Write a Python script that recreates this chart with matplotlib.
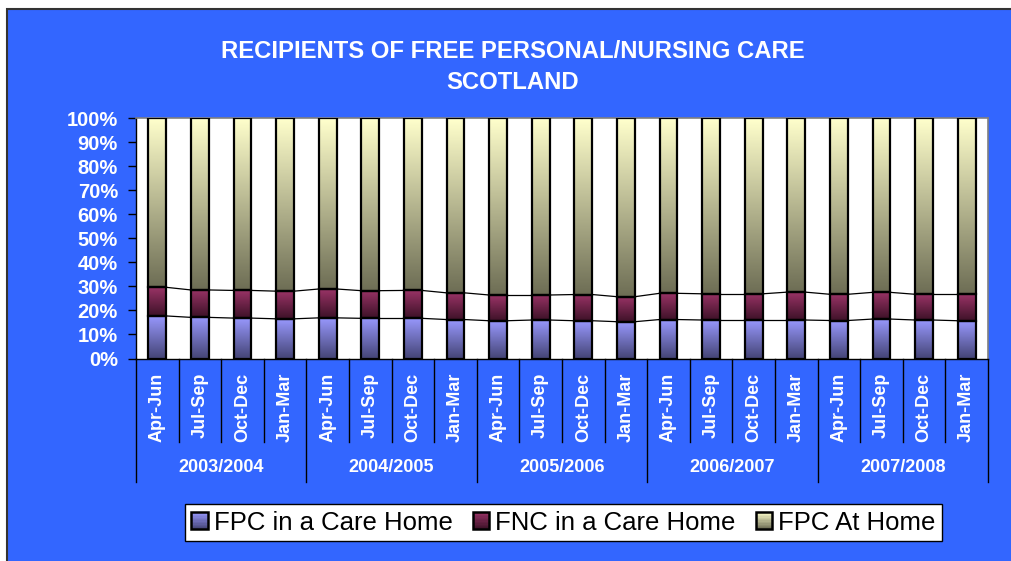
import numpy as np
import matplotlib
matplotlib.use("Agg")
import matplotlib.pyplot as plt
from matplotlib.patches import Rectangle
from matplotlib.legend_handler import HandlerBase

# ---------------- data ----------------
quarters = ["Apr-Jun", "Jul-Sep", "Oct-Dec", "Jan-Mar"]
years = ["2003/2004", "2004/2005", "2005/2006", "2006/2007", "2007/2008"]
series_names = ["FPC in a Care Home", "FNC in a Care Home", "FPC At Home"]

fpc_care = [17.7, 17.1, 16.8, 16.5, 16.9, 16.7, 16.7, 16.2,
            15.7, 16.0, 15.7, 15.3, 16.2, 16.0, 16.0, 16.0,
            15.8, 16.4, 16.0, 15.7]
fnc_care = [11.9, 11.4, 11.5, 11.5, 12.0, 11.5, 11.6, 11.1,
            10.7, 10.4, 10.9, 10.4, 10.9, 10.9, 10.9, 11.6,
            10.9, 11.1, 10.7, 11.0]
fpc_home = [70.4, 71.5, 71.7, 72.0, 71.1, 71.8, 71.7, 72.7,
            73.6, 73.6, 73.4, 74.3, 72.9, 73.1, 73.1, 72.4,
            73.3, 72.5, 73.3, 73.3]

yticks = [0, 10, 20, 30, 40, 50, 60, 70, 80, 90, 100]
ytick_labels = [f"{v}%" for v in yticks]

# gradient colours (top, bottom)
grad_colors = [
    ((153, 153, 255), (70, 70, 120)),
    ((153, 51, 102), (62, 18, 40)),
    ((255, 255, 204), (110, 110, 85)),
]

BLUE = "#3366FF"
FONT = "Liberation Sans"
plt.rcParams["font.family"] = [FONT, "DejaVu Sans"]

W, H = 1011, 561
fig = plt.figure(figsize=(W / 100, H / 100), dpi=100)
fig.patch.set_facecolor("white")
bg = Rectangle((7 / W, -0.01), 1.02, (H - 9) / H + 0.01, transform=fig.transFigure,
               facecolor=BLUE, edgecolor="#333333", linewidth=1.5, zorder=-10)
fig.patches.append(bg)

ax = fig.add_axes([136 / W, 1 - 358.5 / H, (988 - 136) / W, (358.5 - 118) / H])
ax.set_facecolor("white")
ax.set_zorder(1)

labels = [q for _ in years for q in quarters]
n = len(labels)
x = np.arange(n)
bw = 0.42

data = [fpc_care, fnc_care, fpc_home]
bottom = np.zeros(n)
containers = []
for vals in data:
    c = ax.bar(x, vals, bw, bottom=bottom, facecolor="none",
               edgecolor="black", linewidth=1.6, zorder=3)
    containers.append(c)
    bottom = bottom + np.array(vals)


def grad_img(top, bot, steps=64):
    t = np.linspace(0, 1, steps)[:, None]
    top = np.array(top) / 255.0
    bot = np.array(bot) / 255.0
    arr = top[None, :] * (1 - t) + bot[None, :] * t
    return arr[:, None, :]


for c, (top, bot) in zip(containers, grad_colors):
    img = grad_img(top, bot)
    for p in c.patches:
        x0, y0 = p.get_x(), p.get_y()
        ax.imshow(img, extent=[x0, x0 + p.get_width(), y0, y0 + p.get_height()],
                  aspect="auto", zorder=2, interpolation="bilinear")

# series lines between segment tops
cum = np.zeros(n)
for vals in data[:2]:
    cum = cum + np.array(vals)
    for i in range(n - 1):
        ax.plot([x[i] + bw / 2, x[i + 1] - bw / 2], [cum[i], cum[i + 1]],
                color="black", linewidth=0.9, zorder=2.5)

ax.set_xlim(-0.5, n - 0.5)
ax.set_ylim(0, 100)

# y axis
ax.set_yticks(yticks)
ax.set_yticklabels(ytick_labels)
ax.tick_params(axis="y", direction="out", length=6, width=1, color="black",
               pad=7, labelsize=14.5, labelcolor="white")
for lab in ax.get_yticklabels():
    lab.set_fontweight("bold")

# x axis
ax.set_xticks(x)
ax.set_xticklabels(labels, rotation=90, va="top", ha="center")
ax.tick_params(axis="x", length=0, pad=10, labelsize=13, labelcolor="white")
for lab in ax.get_xticklabels():
    lab.set_fontweight("bold")

ah = 240.5
trans = ax.get_xaxis_transform()
for i in range(n + 1):
    xb = i - 0.5
    if i % 4 == 0:
        ax.plot([xb, xb], [0, -123 / ah], color="black", linewidth=1,
                transform=trans, clip_on=False)
    else:
        ax.plot([xb, xb], [0, -83 / ah], color="black", linewidth=1,
                transform=trans, clip_on=False)
for g, yr in enumerate(years):
    ax.text(g * 4 + 1.5, -(468 - 358.5) / ah, yr, transform=trans,
            ha="center", va="center", color="white", fontsize=13,
            fontweight="bold")

for s in ["left", "bottom"]:
    ax.spines[s].set_color("black")
    ax.spines[s].set_linewidth(1)
for s in ["top", "right"]:
    ax.spines[s].set_color("#808080")
    ax.spines[s].set_linewidth(1.2)

# title
fig.text(513 / W, 1 - 52 / H, "RECIPIENTS OF FREE PERSONAL/NURSING CARE",
         ha="center", va="center", color="white", fontsize=17.2, fontweight="bold")
fig.text(513 / W, 1 - 82 / H, "SCOTLAND",
         ha="center", va="center", color="white", fontsize=17.2, fontweight="bold")


# legend with gradient handles
class GradHandle:
    def __init__(self, top, bot):
        self.top = top
        self.bot = bot


class GradHandler(HandlerBase):
    def create_artists(self, legend, orig_handle, xdescent, ydescent, width,
                       height, fontsize, trans):
        side = min(width, height)
        x0 = -xdescent + (width - side) / 2
        y0 = -ydescent + (height - side) / 2
        arts = []
        k = 12
        top = np.array(orig_handle.top) / 255.0
        bot = np.array(orig_handle.bot) / 255.0
        for j in range(k):
            t = (j + 0.5) / k
            col = top * (1 - t) + bot * t
            r = Rectangle((x0, y0 + side * (1 - (j + 1) / k)), side, side / k,
                          facecolor=col, edgecolor="none", transform=trans)
            arts.append(r)
        arts.append(Rectangle((x0, y0), side, side, facecolor="none",
                              edgecolor="black", linewidth=1.8, transform=trans))
        return arts


handles = [GradHandle(t, b) for t, b in grad_colors]
leg = fig.legend(handles, series_names, handler_map={GradHandle: GradHandler()},
                 loc="center", bbox_to_anchor=(563.5 / W, 1 - 522.5 / H),
                 ncol=3, fontsize=18.5, frameon=True, fancybox=False, framealpha=1,
                 handlelength=0.64, handleheight=0.64, handletextpad=0.22,
                 columnspacing=0.8, borderpad=0.27, borderaxespad=0)
leg.get_frame().set_edgecolor("black")
leg.get_frame().set_linewidth(1)
leg.get_frame().set_facecolor("white")

fig.savefig("out.png", dpi=100, facecolor=fig.get_facecolor())
